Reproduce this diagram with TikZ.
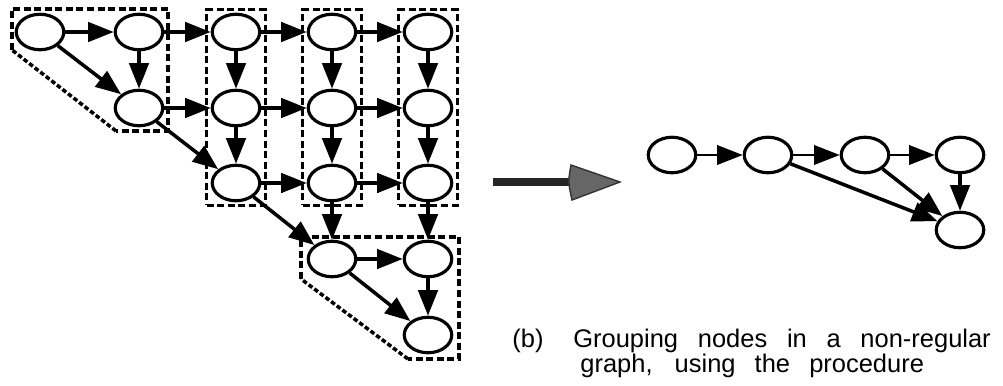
\documentclass[tikz,border=0pt]{standalone}
\usepackage{fontspec}
\setmainfont{Liberation Sans}
\usetikzlibrary{arrows.meta,shapes.geometric,fit}
\begin{document}
\begin{tikzpicture}[x=0.02cm,y=-0.02cm,
  vert/.style={ellipse,draw,line width=1.8pt,minimum width=0.95cm,
    minimum height=0.71cm,inner sep=0pt,fill=white},
  edge/.style={line width=2pt,-{Triangle[length=14.5pt,width=11pt]}},
  thinedge/.style={edge,line width=1.3pt},
  groupline/.style={draw,line width=1.8pt,dash pattern=on 4pt off 2pt},
  slantline/.style={draw,line width=2pt,dash pattern=on 2.6pt off 1.4pt},
  colgroup/.style={groupline,rectangle,inner xsep=2.2pt,inner ysep=1.6pt},
  caption/.style={font=\fontsize{14.5}{16}\selectfont,inner sep=0pt,anchor=base west}]
\useasboundingbox (0,0) rectangle (1003,385);

% ---- left graph: the triangular grid ----
\node[vert] (a11) at (40,32) {};
\node[vert] (a12) at (139,32) {};
\node[vert] (a13) at (236,32) {};
\node[vert] (a14) at (332,32) {};
\node[vert] (a15) at (428,32) {};
\node[vert] (a22) at (139,108) {};
\node[vert] (a23) at (236,108) {};
\node[vert] (a24) at (332,108) {};
\node[vert] (a25) at (428,108) {};
\node[vert] (a33) at (236,183) {};
\node[vert] (a34) at (332,183) {};
\node[vert] (a35) at (428,183) {};
\node[vert] (a44) at (332,259) {};
\node[vert] (a45) at (428,259) {};
\node[vert] (a55) at (428,335) {};

% groups (dashed outlines; the slanted sides are finer)
\draw[groupline] (12,50) -- (12,9) -- (168,9) -- (168,131) -- (116,131);
\draw[slantline] (116,131) -- (12,50);
\node[colgroup, fit=(a13.north)(a33.south)(a13.west)(a13.east)] (g3) {};
\node[colgroup, fit=(a14.north)(a34.south)(a14.west)(a14.east)] (g4) {};
\node[colgroup, fit=(a15.north)(a35.south)(a15.west)(a15.east)] (g5) {};
\draw[groupline] (301,279) -- (301,237) -- (459,237) -- (459,359) -- (408,359);
\draw[slantline] (408,359) -- (301,279);

% edges
\draw[edge] (a11) -- (a12);
\draw[edge] (a11) -- (a22);
\draw[edge] (a12) -- (a13);
\draw[edge] (a12) -- (a22);
\draw[edge] (a13) -- (a14);
\draw[edge] (a13) -- (a23);
\draw[edge] (a14) -- (a15);
\draw[edge] (a14) -- (a24);
\draw[edge] (a15) -- (a25);
\draw[edge] (a22) -- (a23);
\draw[edge] (a22) -- (a33);
\draw[edge] (a23) -- (a24);
\draw[edge] (a23) -- (a33);
\draw[edge] (a24) -- (a25);
\draw[edge] (a24) -- (a34);
\draw[edge] (a25) -- (a35);
\draw[edge] (a33) -- (a34);
\draw[edge] (a33) -- (a44);
\draw[edge] (a34) -- (a35);
\draw[edge] (a34) -- (a44);
\draw[edge] (a35) -- (a45);
\draw[edge] (a44) -- (a45);
\draw[edge] (a44) -- (a55);
\draw[edge] (a45) -- (a55);

% ---- transformation arrow ----
\coordinate (ts) at (493,182);
\coordinate (te) at (574,182);
\draw[line width=4.5pt, black!85] (ts) -- (te);
\fill[black!60, draw=black!80, line width=0.8pt]
  (571,165) .. controls (568,182) .. (572,200) -- (620,182) -- cycle;

% ---- right graph: grouped result ----
\node[vert] (b1) at (672,155) {};
\node[vert] (b2) at (768,155) {};
\node[vert] (b3) at (865,155) {};
\node[vert] (b4) at (960,155) {};
\node[vert] (b5) at (960,230) {};
\draw[thinedge] (b1) -- (b2);
\draw[thinedge] (b2) -- (b3);
\draw[thinedge] (b3) -- (b4);
\draw[edge,line width=1.8pt] (b4) -- (b5);
\draw[edge] (b2) -- (b5);
\draw[edge] (b3) -- (b5);

% ---- caption ----
\node[caption] (lbl) at (512,347) {(b)};
\node[caption] (cap1) at (573,347) {\makebox[237.6pt][s]{Grouping nodes in a non-regular}};
\node[caption] (cap2) at (580,372) {\makebox[195.6pt][s]{graph, using the procedure}};
\end{tikzpicture}
\end{document}
